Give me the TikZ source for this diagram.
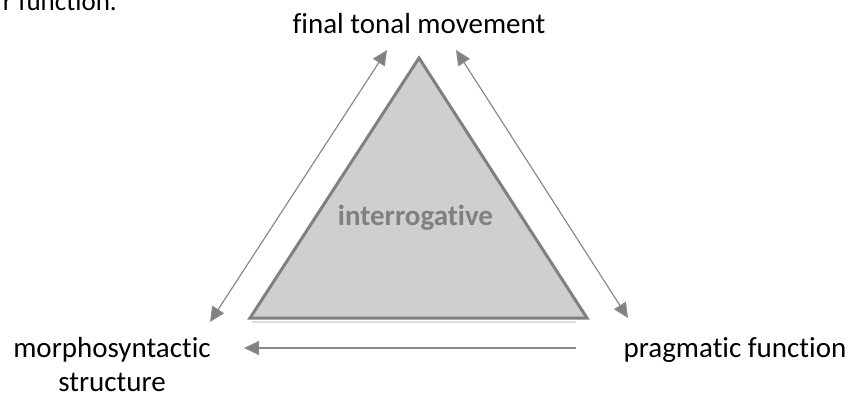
\documentclass[tikz,border=0pt]{standalone}
\usepackage{fontspec}
\setmainfont{Carlito}[Ligatures={NoCommon}]
\usetikzlibrary{arrows.meta}
\definecolor{edgegray}{HTML}{808080}
\definecolor{linegray}{HTML}{8A8A8A}
\definecolor{fillgray}{HTML}{D0CECE}
\tikzset{
  lbl/.style={font=\fontsize{29}{34}\selectfont, text=black, inner sep=0pt, align=center},
  conn/.style={draw=linegray, line width=1.2pt, -{Triangle[length=15pt,width=14pt,fill=edgegray]}},
  dconn/.style={draw=linegray, line width=1.2pt, {Triangle[length=15pt,width=14pt,fill=edgegray]}-{Triangle[length=15pt,width=14pt,fill=edgegray]}},
}
\begin{document}
\begin{tikzpicture}[x=1pt,y=-1pt]
\useasboundingbox (0,0) rectangle (850,394);
\clip (0,0) rectangle (850,394);
% cropped caption fragment
\node[lbl, font=\fontsize{27}{32}\selectfont, anchor=base east] (frag) at (117,10) {r function.};
% triangle
\coordinate (A) at (419,58);
\coordinate (B) at (250,318);
\coordinate (C) at (587,318);
\draw[draw=fillgray!70!white, line width=2pt] (252,321.5) -- (576,321.5);
\filldraw[fill=fillgray, draw=edgegray, line width=3pt, line join=miter] (A) -- (B) -- (C) -- cycle;
\node[font=\fontsize{29}{34}\selectfont\bfseries, text=edgegray, inner sep=0pt] (int) at (415.5,218) {interrogative};
% labels
\node[lbl] (top) at (419,24) {final tonal movement};
\node[lbl] (left) at (112,365) {morphosyntactic\\structure};
\node[lbl] (right) at (735,350) {pragmatic function};
% arrow endpoints
\coordinate (l1) at (387,50);
\coordinate (l2) at (210,322);
\coordinate (r1) at (456,50);
\coordinate (r2) at (628,318);
\coordinate (b1) at (576,348);
\coordinate (b2) at (244,348);
\draw[dconn] (l1) -- (l2);
\draw[dconn] (r1) -- (r2);
\draw[conn] (b1) -- (b2);
\end{tikzpicture}
\end{document}
